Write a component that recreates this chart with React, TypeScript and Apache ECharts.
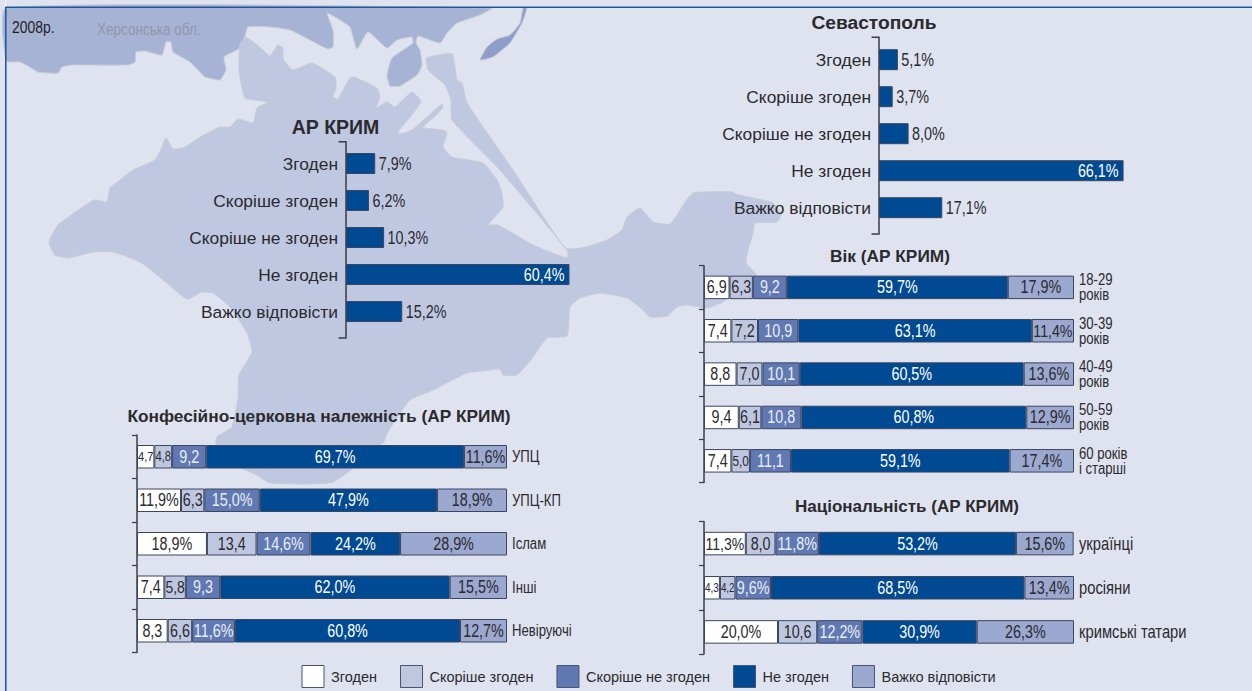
import React, { useEffect, useRef } from "react";
import * as echarts from "echarts";

const answers = ["Згоден", "Скоріше згоден", "Скоріше не згоден", "Не згоден", "Важко відповісти"];
const crimeaValues = [7.9, 6.2, 10.3, 60.4, 15.2];
const crimeaLabels = ["7,9%", "6,2%", "10,3%", "60,4%", "15,2%"];
const sevastopolValues = [5.1, 3.7, 8.0, 66.1, 17.1];
const sevastopolLabels = ["5,1%", "3,7%", "8,0%", "66,1%", "17,1%"];

const faithCategories = ["УПЦ", "УПЦ-КП", "Іслам", "Інші", "Невіруючі"];
const faithRows = [
  ["4,7", "4,8", "9,2", "69,7%", "11,6%"],
  ["11,9%", "6,3", "15,0%", "47,9%", "18,9%"],
  ["18,9%", "13,4", "14,6%", "24,2%", "28,9%"],
  ["7,4", "5,8", "9,3", "62,0%", "15,5%"],
  ["8,3", "6,6", "11,6%", "60,8%", "12,7%"],
];
const ageCategories = ["18-29\nроків", "30-39\nроків", "40-49\nроків", "50-59\nроків", "60 років\nі старші"];
const ageRows = [
  ["6,9", "6,3", "9,2", "59,7%", "17,9%"],
  ["7,4", "7,2", "10,9", "63,1%", "11,4%"],
  ["8,8", "7,0", "10,1", "60,5%", "13,6%"],
  ["9,4", "6,1", "10,8", "60,8%", "12,9%"],
  ["7,4", "5,0", "11,1", "59,1%", "17,4%"],
];
const nationCategories = ["українці", "росіяни", "кримські татари"];
const nationRows = [
  ["11,3%", "8,0", "11,8%", "53,2%", "15,6%"],
  ["4,3", "4,2", "9,6%", "68,5%", "13,4%"],
  ["20,0%", "10,6", "12,2%", "30,9%", "26,3%"],
];

const kherson = [[6,8],[492,8],[480,15],[457,23],[447,33],[440,43],[418,36],[416,43],[420,50],[422,65],[417,75],[400,86],[390,86],[387,75],[392,58],[413,43],[412,37],[397,40],[387,48],[368,32],[357,49],[350,27],[340,20],[327,13],[333,30],[333,47],[328,49],[310,40],[290,30],[270,27],[248,27],[245,36],[240,48],[224,57],[226,70],[220,80],[213,79],[205,77],[190,62],[173,52],[171,42],[166,42],[162,55],[145,51],[136,52],[135,62],[128,65],[72,65],[62,67],[58,73],[38,72],[28,66],[20,62],[6,61]];
const lake = [[523,8],[527,8],[522,23],[510,43],[493,57],[480,60],[487,47],[497,39],[510,35],[520,23]];
const crimea = [[246,37],[263,50],[270,56],[278,45],[283,48],[283,59],[293,70],[312,63],[335,77],[336,88],[333,97],[338,99],[350,78],[354,77],[377,88],[380,97],[376,108],[387,102],[395,107],[412,92],[421,102],[398,132],[400,134],[412,130],[442,104],[443,108],[424,126],[423,128],[443,130],[447,133],[443,147],[452,157],[483,163],[497,180],[501,190],[503,207],[488,225],[498,225],[533,245],[563,257],[568,257],[567,250],[500,170],[452,120],[451,100],[445,85],[428,70],[427,58],[452,54],[457,80],[462,83],[467,103],[513,170],[565,248],[582,248],[607,240],[622,230],[627,217],[640,208],[653,222],[670,224],[688,198],[693,193],[707,192],[733,192],[735,194],[773,203],[781,215],[777,222],[755,223],[753,233],[748,250],[746,263],[756,275],[733,293],[723,302],[707,308],[687,305],[677,307],[667,316],[650,317],[643,310],[627,298],[600,293],[580,298],[570,307],[567,336],[547,338],[533,357],[517,375],[503,375],[500,369],[490,370],[467,373],[433,390],[410,400],[387,433],[383,443],[333,482],[270,483],[257,475],[235,465],[216,445],[217,437],[232,427],[238,397],[239,375],[252,352],[247,333],[230,307],[213,293],[202,292],[187,299],[167,283],[140,262],[113,252],[93,252],[68,258],[55,255],[49,242],[58,225],[94,200],[107,202],[110,188],[120,180],[133,170],[155,160],[162,147],[166,138],[173,149],[185,147],[200,137],[220,127],[230,127],[238,119],[253,123],[257,108],[268,102],[245,98],[239,70],[240,45]];

// The reference is set in a condensed face; no condensed face is installed, so texts
// marked with this family stack are narrowed after drawing (see condenseTexts).
const REGULAR = "'Liberation Sans', sans-serif";
const NARROW = "'Liberation Sans', Arimo, sans-serif";
const NARROW_MARK = "Arimo";
const NARROW_SCALE = 0.82;
const INK = "#2b2a2e";
const BORDER = "#3a4560";
const fills = ["#ffffff", "#bfc7e0", "#6079b3", "#004a93", "#9ba8d0"];
const labelColors = [INK, INK, "#e9edf6", "#ffffff", INK];

const num = (s: string) => parseFloat(s.replace(",", "."));
const emWidth = (s: string) =>
  [...s].reduce((w, c) => w + (c === "," ? 0.278 : c === "%" ? 0.889 : 0.556), 0) * NARROW_SCALE;
const fitFont = (s: string) => Math.min(17.5, (3.7 * num(s) - 2) / emWidth(s));

const simpleGrids = [
  { top: 145, height: 185, left: 346 },
  { top: 41.2, height: 185, left: 879 },
];
const stackGrids = [
  { top: 435, height: 217.5, left: 137 },
  { top: 265.7, height: 216.8, left: 704 },
  { top: 521.5, height: 132.5, left: 704 },
];

function buildOption() {
  const grid: any[] = [];
  const xAxis: any[] = [];
  const yAxis: any[] = [];
  const series: any[] = [];

  const simple = [
    { values: crimeaValues, labels: crimeaLabels, name: "АР КРИМ" },
    { values: sevastopolValues, labels: sevastopolLabels, name: "Севастополь" },
  ];
  simple.forEach((c, i) => {
    const g = simpleGrids[i];
    grid.push({ left: g.left, top: g.top, width: 370, height: g.height });
    xAxis.push({ gridIndex: i, type: "value", min: 0, max: 100, show: false });
    yAxis.push({
      gridIndex: i,
      type: "category",
      inverse: true,
      data: answers,
      axisLine: { show: false },
      axisTick: { show: false },
      axisLabel: { margin: 8, fontFamily: REGULAR, fontSize: 17.4, color: INK },
    });
    series.push({
      name: c.name,
      type: "bar",
      xAxisIndex: i,
      yAxisIndex: yAxis.length - 1,
      barWidth: 21,
      itemStyle: { color: fills[3], borderColor: BORDER, borderWidth: 1 },
      label: { show: true, position: "right", distance: 3.5, fontFamily: NARROW, fontSize: 17.5, color: INK, formatter: (p: any) => p.data.text },
      data: c.values.map((v, k) => ({
        value: v,
        text: c.labels[k],
        label: v > 50 ? { position: "insideRight", distance: 5, color: "#fff" } : undefined,
      })),
    });
  });

  const stacks = [
    { categories: faithCategories, rows: faithRows, key: "faith", font: 16, line: 16 },
    { categories: ageCategories, rows: ageRows, key: "age", font: 16, line: 15 },
    { categories: nationCategories, rows: nationRows, key: "nation", font: 18, line: 18 },
  ];
  stacks.forEach((s, i) => {
    const gi = i + 2;
    const g = stackGrids[i];
    grid.push({ left: g.left, top: g.top, width: 370, height: g.height });
    xAxis.push({ gridIndex: gi, type: "value", min: 0, max: 100, show: false });
    const yIdx = yAxis.length;
    yAxis.push({
      gridIndex: gi,
      type: "category",
      inverse: true,
      position: "left",
      data: s.categories,
      axisLine: { show: true, lineStyle: { color: "#3c3c44", width: 1.5 } },
      axisTick: { show: true, length: 5, lineStyle: { color: "#3c3c44", width: 1.2 } },
      axisLabel: { show: false },
    });
    yAxis.push({
      gridIndex: gi,
      type: "category",
      inverse: true,
      position: "right",
      data: s.categories,
      axisLine: { show: false },
      axisTick: { show: false },
      axisLabel: { margin: 5, fontFamily: NARROW, fontSize: s.font, lineHeight: s.line, color: INK },
    });
    answers.forEach((name, a) => {
      series.push({
        name,
        type: "bar",
        stack: s.key,
        xAxisIndex: gi,
        yAxisIndex: yIdx,
        barWidth: 23.5,
        itemStyle: { color: fills[a], borderColor: BORDER, borderWidth: 1 },
        label: { show: true, position: "inside", fontFamily: NARROW, fontSize: 17.5, color: labelColors[a], formatter: (p: any) => p.data.text },
        data: s.rows.map((r) => ({
          value: num(r[a]),
          text: r[a],
          label: { fontSize: fitFont(r[a]) },
        })),
      });
    });
  });

  const titleBase = { textAlign: "center", textVerticalAlign: "middle", padding: 0 };
  const title = [
    { text: "АР КРИМ", left: 335.5, top: 127, size: 19.5 },
    { text: "Севастополь", left: 874, top: 22, size: 19.2 },
    { text: "Конфесійно-церковна належність (АР КРИМ)", left: 319, top: 416, size: 17.3 },
    { text: "Вік (АР КРИМ)", left: 890, top: 256, size: 17.3 },
    { text: "Національність (АР КРИМ)", left: 907, top: 506, size: 17 },
  ].map((t) => ({
    ...titleBase,
    text: t.text,
    left: t.left,
    top: t.top,
    textStyle: { fontFamily: REGULAR, fontWeight: "bold", fontSize: t.size, color: INK },
  }));

  const bracket = (x: number, y0: number, y1: number) => ({
    type: "polyline",
    z: 5,
    shape: { points: [[x - 7.5, y0], [x, y0], [x, y1], [x - 7.5, y1]] },
    style: { fill: "none", stroke: "#3c3c44", lineWidth: 1.5 },
  });
  const coast = "#c8ccd6";
  const graphic = [
    { type: "polygon", z: -5, shape: { points: kherson, smooth: 0.15 }, style: { fill: "#a6b3d4", stroke: coast, lineWidth: 1 } },
    { type: "polygon", z: -5, shape: { points: lake, smooth: 0.15 }, style: { fill: "#8d9ecb", stroke: coast, lineWidth: 1 } },
    { type: "polygon", z: -5, shape: { points: crimea, smooth: 0.15 }, style: { fill: "#c0c8e1", stroke: coast, lineWidth: 1 } },
    { type: "rect", z: -1, shape: { x: 5, y: 7, width: 1.6, height: 684 }, style: { fill: "#1d5fa6" } },
    { type: "rect", z: -1, shape: { x: 5, y: 6.5, width: 1247, height: 1.6 }, style: { fill: "#1d5a9c" } },
    { type: "rect", z: -1, shape: { x: 5, y: 0, width: 1, height: 6.5 }, style: { fill: "#ffffff" } },
    { type: "text", z: 5, x: 12, y: 27, style: { text: "2008р.", fontFamily: NARROW, fontSize: 17, fill: "#1f1f26", verticalAlign: "middle" } },
    { type: "text", z: 5, x: 97, y: 29, style: { text: "Херсонська обл.", fontFamily: NARROW, fontSize: 16.5, fill: "#8f97ad", verticalAlign: "middle" } },
    bracket(346, 141.7, 338),
    bracket(879, 37.3, 234),
  ];

  return {
    animation: false,
    backgroundColor: "#dfe3ef",
    title,
    grid,
    xAxis,
    yAxis,
    series,
    graphic,
    legend: {
      left: 301.5,
      top: 665,
      icon: "rect",
      itemWidth: 22,
      itemHeight: 22,
      itemGap: 23,
      padding: 0,
      selectedMode: false,
      data: answers,
      itemStyle: { borderColor: "#4a5370", borderWidth: 1 },
      textStyle: { fontFamily: REGULAR, fontSize: 14.5, color: INK, padding: [0, 0, 0, 2] },
    },
  };
}

function condenseTexts(root: HTMLElement) {
  root.querySelectorAll("text").forEach((el) => {
    if (!getComputedStyle(el).fontFamily.includes(NARROW_MARK)) return;
    const x = parseFloat(el.getAttribute("x") || "0");
    const y = parseFloat(el.getAttribute("y") || "0");
    const base = el.getAttribute("transform") || "";
    el.setAttribute("transform", `${base} translate(${x} ${y}) scale(${NARROW_SCALE} 1) translate(${-x} ${-y})`.trim());
  });
}

export default function App() {
  const ref = useRef<HTMLDivElement>(null);
  useEffect(() => {
    const chart = echarts.init(ref.current!, undefined, { renderer: "svg" });
    chart.setOption(buildOption() as any);
    condenseTexts(ref.current!);
    return () => chart.dispose();
  }, []);
  return <div ref={ref} style={{ position: "fixed", left: 0, top: 0, width: 1252, height: 691 }} />;
}
